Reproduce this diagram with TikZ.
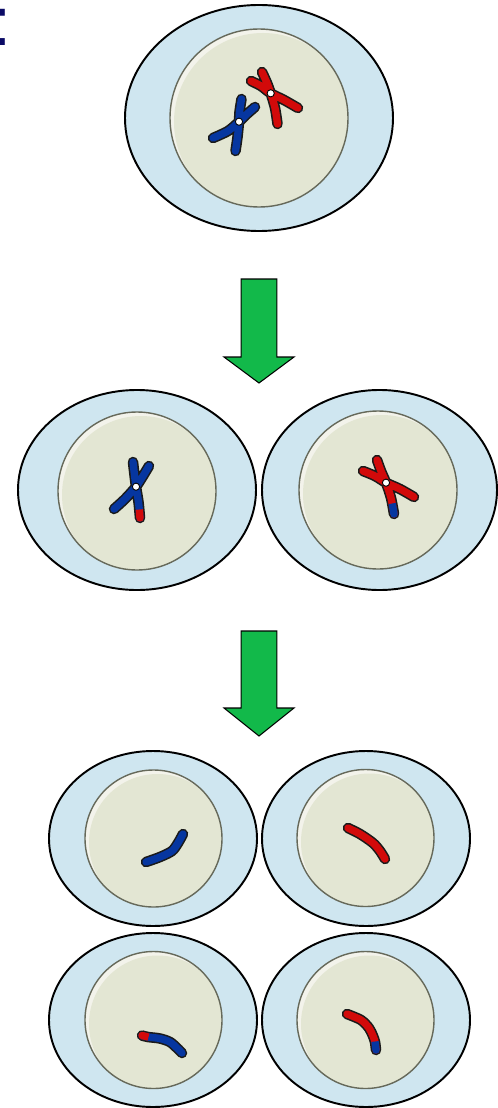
\documentclass[tikz,border=0pt]{standalone}
\usepackage{fontspec}
\newfontfamily\titulofont{Liberation Sans}
\usetikzlibrary{arrows.meta}
\definecolor{citocla}{HTML}{CFE6F0}
\definecolor{nucleocla}{HTML}{E3E6D3}
\definecolor{brillocla}{HTML}{F3F3EB}
\definecolor{nucleoosc}{HTML}{66695A}
\definecolor{azul}{HTML}{0636A0}
\definecolor{rojo}{HTML}{D20A0A}
\definecolor{verde}{HTML}{12B94A}
\definecolor{marino}{HTML}{0A0A66}
\definecolor{contorno}{HTML}{1A1A1A}
\tikzset{
  citoplasma/.style  = {fill=citocla, draw=black, line width=1.1pt},
  nucleo/.style      = {fill=nucleocla},
  brillo/.style      = {fill=brillocla},
  bordenucleo/.style = {draw=nucleoosc, line width=0.8pt},
  % brazo con su contorno negro debajo
  cromo/.style       = {draw=#1, line width=4.2pt, line cap=round, line join=round,
                        preaction={draw=contorno, line width=6pt,
                                   line cap=round, line join=round}},
  tramo/.style       = {draw=#1, line width=4.2pt, line cap=butt},
  centromero/.style  = {fill=white, draw=black, line width=0.5pt},
  flechaverde/.style = {fill=verde, draw=black, line width=0.6pt, line join=miter},
  rotulo/.style      = {font=\titulofont\fontsize{39}{44}\selectfont, text=marino,
                        inner sep=0pt, anchor=base west},
}

\begin{document}
\begin{tikzpicture}[x=0.02cm, y=-0.02cm]
\useasboundingbox (0,0) rectangle (497,1108);

\node[rotulo] (dospuntos) at (-7.9,46) {:};

% =============================================================================
% Celulas: citoplasma, nucleo con brillo y borde
% =============================================================================
\foreach \cx/\cy/\rx/\ry/\nx/\ny/\rn in {
    259/118/134/113/259/118/89,
    137/490/119/100/137/491/79,
    379.5/490/117.5/100/378/490/79,
    153/838.5/104/87.5/153.5/838.5/68.5,
    366/838.5/104/87.5/365.5/838/68.5,
    153/1020/104/87/153.5/1020/68.5,
    366/1020/104/87/365.5/1020/68.5} {
  \draw[citoplasma] (\cx,\cy) ellipse [x radius=\rx, y radius=\ry];
  \begin{scope}
    \clip (\nx,\ny) circle [radius=\rn];
    \fill[brillo] (\nx,\ny) circle [radius=\rn];
    \fill[nucleo] (\nx+4,\ny+4) circle [radius=\rn];
  \end{scope}
  \draw[bordenucleo] (\nx,\ny) circle [radius=\rn];
}

% =============================================================================
% Flechas entre divisiones
% =============================================================================
\foreach \ya/\yb/\yc in {279/357/383, 631/708/736}
  \draw[flechaverde] (241.2,\ya) -- (276.8,\ya) -- (276.8,\yb) -- (294,\yb)
        -- (259,\yc) -- (224,\yb) -- (241.2,\yb) -- cycle;

% =============================================================================
% Celula madre: dos cromosomas duplicados
% =============================================================================
\draw[cromo=azul]
  plot[smooth] coordinates {(241.5,99) (239.5,112) (239,121.7) (237.5,137) (235.5,151)}
  plot[smooth] coordinates {(255,107) (247,114) (239,121.7) (228,131) (213,138)};
\fill[centromero] (239,121.7) circle [radius=3.6];

\draw[cromo=rojo]
  plot[smooth] coordinates {(262,72) (267,83) (270.7,93.3) (275,108) (277.5,124)}
  plot[smooth] coordinates {(251,81) (261,86) (270.7,93.3) (284,100) (298,108)};
\fill[centromero] (270.7,93.3) circle [radius=3.6];

% =============================================================================
% Primera division: cromatidas con intercambio
% =============================================================================
\draw[cromo=azul]
  plot[smooth] coordinates {(133,462) (134.5,475) (136,486.7) (138.5,502) (140,518)}
  plot[smooth] coordinates {(149,466) (143,476) (136,486.7) (125,499) (114,509)};
\draw[tramo=rojo] (139.3,509.5) -- (140,518);
\fill[rojo] (140,518) circle [radius=3.7];
\fill[centromero] (136,486.7) circle [radius=3.6];

\draw[cromo=rojo]
  plot[smooth] coordinates {(377,460) (381,471) (386,482.7) (391,498) (394,514)}
  plot[smooth] coordinates {(363,471) (375,476) (386,482.7) (400,489) (414,497)};
\draw[tramo=azul] (392.2,503.5) -- (394,514);
\fill[azul] (394,514) circle [radius=3.7];
\fill[centromero] (386,482.7) circle [radius=3.6];

% =============================================================================
% Segunda division: cromatidas sueltas
% =============================================================================
\draw[cromo=azul]
  plot[smooth] coordinates {(146,862) (160,857) (172,851) (178,843) (183,834)};
\draw[cromo=rojo]
  plot[smooth] coordinates {(348,828) (360,834) (373,843) (380,851) (385,859)};

\draw[cromo=azul]
  plot[smooth] coordinates {(142,1035.5) (148,1037) (160,1038.5) (170,1042) (177,1048) (182,1053)};
\draw[tramo=rojo] (148.5,1037.1) -- (142,1035.5);
\fill[rojo] (142,1035.5) circle [radius=3.7];

\draw[cromo=rojo]
  plot[smooth] coordinates {(347,1014) (361,1020) (369,1028) (373,1036) (375,1042) (376,1050)};
\draw[tramo=azul] (375,1041.5) -- (376,1050);
\fill[azul] (376,1050) circle [radius=3.7];

\end{tikzpicture}
\end{document}
